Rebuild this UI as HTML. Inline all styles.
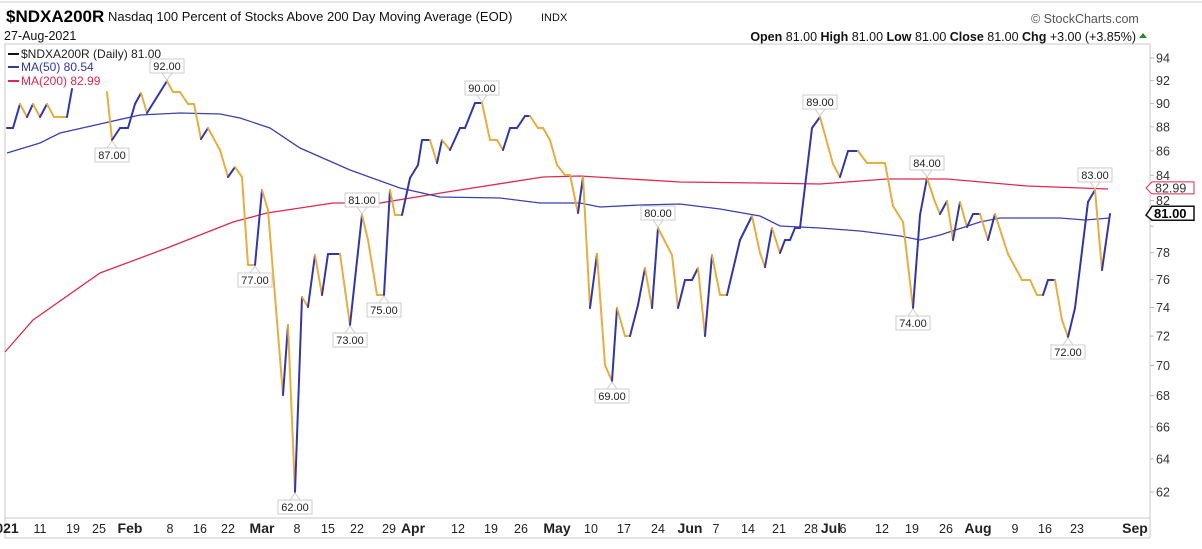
<!DOCTYPE html>
<html><head><meta charset="utf-8"><style>
body{margin:0;width:1202px;height:544px;background:#fff;overflow:hidden;font-family:"Liberation Sans",Arial,sans-serif;}
svg text{font-family:"Liberation Sans",Arial,sans-serif;}
</style></head><body>
<svg id="s" width="1202" height="544" xmlns="http://www.w3.org/2000/svg">
<line x1="0" y1="2" x2="1202" y2="2" stroke="#ccc"/>
<text x="6" y="22" font-size="17" font-weight="bold" fill="#000">$NDXA200R</text>
<text x="108" y="21" font-size="13" fill="#111">Nasdaq 100 Percent of Stocks Above 200 Day Moving Average (EOD)</text>
<text x="541" y="21" font-size="11" fill="#111">INDX</text>
<text x="4" y="40" font-size="12.5" fill="#111">27-Aug-2021</text>
<text x="1031" y="23" font-size="12.5" fill="#555">© StockCharts.com</text>
<text x="1136" y="41" font-size="12.5" text-anchor="end" fill="#111"><tspan font-weight="bold">Open</tspan> 81.00  <tspan font-weight="bold">High</tspan> 81.00  <tspan font-weight="bold">Low</tspan> 81.00  <tspan font-weight="bold">Close</tspan> 81.00  <tspan font-weight="bold">Chg</tspan> +3.00 (+3.85%)</text>
<polygon points="1139,38 1147,38 1143,33" fill="#2a8a2a"/>
<rect x="5" y="44" width="1145" height="474" fill="none" stroke="#c8c8c8"/>
<rect x="5" y="518" width="1145" height="20" fill="#fff" stroke="#c8c8c8"/>
<g id="g"></g>
</svg>
<script>
const s=document.getElementById('g');const NS='http://www.w3.org/2000/svg';
function el(t,a,txt){const e=document.createElementNS(NS,t);for(const k in a)e.setAttribute(k,a[k]);if(txt!==undefined)e.textContent=txt;s.appendChild(e);return e;}
const Y=v=>58+1043*Math.log(94/v);
for(let v=62;v<=94;v+=2){const y=Y(v);el('line',{x1:1150,y1:y,x2:1154,y2:y,stroke:'#bbb'});
 if(v!=80)el('text',{x:1156,y:y+4.5,'font-size':12.5,fill:'#333'},v);}
const d=[['021',7,1],['11',40],['19',73],['25',99],['Feb',130,1],['8',170],['16',200],['22',228],['Mar',262,1],['8',297],['15',328],['22',357],['29',389],['Apr',413,1],['12',458],['19',491],['26',521],['May',557,1],['10',591],['17',624],['24',658],['Jun',690,1],['7',716],['14',748],['21',779],['28',811],['Jul',831,1],['6',843],['12',882],['19',912],['26',946],['Aug',978,1],['9',1015],['16',1045],['23',1077],['Sep',1135,1]];
d.forEach(a=>el('text',{x:a[1],y:533,'font-size':a[2]?14:12.5,'text-anchor':'middle','font-weight':a[2]?'bold':'normal',fill:'#222'},a[0]));
const m200=[[5,352],[33,320],[100,273],[167,248],[233,222],[267,213],[333,203],[380,203],[447,192],[543,177],[580,176],[613,178],[680,182],[760,183],[820,184],[887,179],[947,179],[1027,186],[1108,189]];
el('polyline',{points:m200.join(' '),fill:'none',stroke:'#e0284f','stroke-width':1.3});
const m50=[[7,153],[40,143],[60,133],[100,124],[140,115],[180,113],[220,114],[240,118],[270,128],[300,148],[350,170],[400,188],[440,197],[500,198],[540,203],[580,203],[600,207],[640,205],[680,204],[720,209],[760,216],[780,226],[820,228],[860,231],[900,236],[920,240],[940,235],[980,222],[1000,218],[1060,218],[1085,220],[1110,218]];
el('polyline',{points:m50.join(' '),fill:'none',stroke:'#3b3fb0','stroke-width':1.3});
const segs=[[[7,128],[13,128],[20,104],[27,117],[33,104],[40,117],[47,104],[54,117],[67,117],[72,89]],
[[107,92],[112,140],[120,128],[128,128],[135,104],[141,93],[147,113],[167,81],[173,92],[180,92],[188,104],[194,104],[201,139],[208,128],[220,150],[228,177],[235,167],[242,177],[248,265],[255,265],[262,190],[268,210],[283,395],[288,325],[295,492],[302,297],[308,307],[315,255],[322,295],[328,254],[340,254],[350,325],[362,215],[368,240],[377,295],[384,295],[390,190],[395,215],[402,215],[410,178],[418,165],[422,140],[430,140],[437,163],[442,140],[450,150],[460,128],[465,128],[475,103],[482,103],[490,140],[497,140],[503,150],[510,128],[517,128],[525,116],[530,116],[538,128],[543,128],[550,140],[557,165],[565,175],[570,175],[578,213],[583,177],[590,308],[597,254],[605,365],[612,381],[617,308],[625,336],[630,336],[638,305],[645,268],[652,308],[658,228],[672,255],[678,308],[685,280],[692,280],[698,268],[705,336],[712,255],[720,295],[727,295],[740,240],[752,216],[760,253],[765,267],[772,228],[780,253],[785,240],[790,240],[795,228],[800,228],[812,128],[820,117],[833,164],[840,177],[848,151],[858,151],[867,163],[885,163],[893,206],[903,222],[913,308],[920,215],[927,178],[935,202],[940,214],[947,201],[953,240],[960,202],[967,227],[973,214],[980,214],[988,240],[995,214],[1008,254],[1022,280],[1030,280],[1037,295],[1043,295],[1048,280],[1055,280],[1062,320],[1068,337],[1075,308],[1088,202],[1095,190],[1102,270],[1110,214]]];
segs.forEach(p=>{let c='#3236a8';for(let i=1;i<p.length;i++){if(p[i][1]<p[i-1][1])c='#3236a8';else if(p[i][1]>p[i-1][1])c='#e6ad40';
 el('line',{x1:p[i-1][0],y1:p[i-1][1],x2:p[i][0],y2:p[i][1],stroke:c,'stroke-width':2,'stroke-linecap':'round'});}});
el('rect',{x:6,y:46,width:212,height:14,fill:'#fff'});
el('rect',{x:6,y:60,width:100,height:28,fill:'#fff'});
[['#111','$NDXA200R (Daily) 81.00',58],['#3236a8','MA(50) 80.54',71],['#e0284f','MA(200) 82.99',85]].forEach(([c,t,y])=>{
 el('line',{x1:8,y1:y-4,x2:19,y2:y-4,stroke:c,'stroke-width':2});el('text',{x:21,y:y,'font-size':12,fill:c=='#111'?'#222':c},t);});
const labs=[[167,81,'92.00',1],[112,140,'87.00',0],[255,265,'77.00',0],[295,492,'62.00',0],[362,215,'81.00',1],[350,325,'73.00',0],[384,295,'75.00',0],[482,103,'90.00',1],[612,381,'69.00',0],[658,228,'80.00',1],[820,117,'89.00',1],[927,178,'84.00',1],[913,308,'74.00',0],[1068,337,'72.00',0],[1095,190,'83.00',1]];
labs.forEach(([x,y,t,up])=>{const by=up?y-22:y+8;
 el('polyline',{points:up?`${x-5},${y-8} ${x},${y-1} ${x+5},${y-8}`:`${x-5},${y+8} ${x},${y+1} ${x+5},${y+8}`,fill:'none',stroke:'#ccc'});
 el('rect',{x:x-17,y:by,width:34,height:14,fill:'#fff',stroke:'#ccc'});
 el('text',{x:x,y:by+11,'font-size':11,'text-anchor':'middle',fill:'#222'},t);});
let y1=Y(82.99);el('polygon',{points:`1146,${y1} 1152,${y1-6} 1194,${y1-6} 1194,${y1+6} 1152,${y1+6}`,fill:'#fff',stroke:'#e0284f'});
el('text',{x:1155,y:y1+4.5,'font-size':12.5,fill:'#333'},'82.99');
let y2=Y(81);el('polygon',{points:`1146,${y2+2} 1152,${y2-7} 1194,${y2-7} 1194,${y2+7} 1152,${y2+7}`,fill:'#fff',stroke:'#111','stroke-width':1.5});
el('text',{x:1154,y:y2+5,'font-size':13,'font-weight':'bold',fill:'#000'},'81.00');
</script>
</body></html>
